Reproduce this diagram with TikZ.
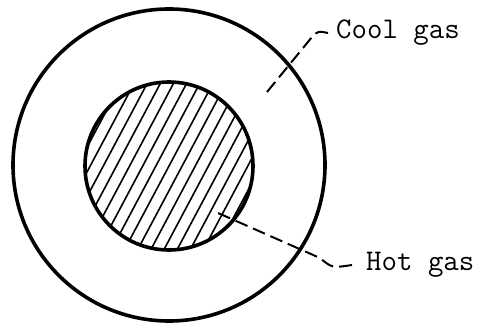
\documentclass[tikz,border=0pt]{standalone}
\begin{document}
\begin{tikzpicture}[x=1pt,y=1pt,
  ring/.style={line width=3.6pt},
  hatchline/.style={line width=1.6pt},
  leader/.style={line width=2pt, dash pattern=on 13pt off 6pt},
  lbl/.style={font=\fontsize{30}{32}\selectfont\ttfamily, inner sep=0pt, anchor=west}]
\useasboundingbox (0,0) rectangle (481,324);
\coordinate (c) at (169,158);
\begin{scope}
  \clip (c) circle (84);
  \foreach \i in {-9,...,9} {
    \draw[hatchline, shift={(c)}, rotate=62] (-110,\i*11.6) -- (110,\i*11.6);
  }
\end{scope}
\draw[ring] (169,159) circle (156);
\draw[ring] (c) circle (84);
\node[lbl] (cool) at (336,291) {Cool gas};
\node[lbl] (hot) at (366,59) {Hot gas};
\coordinate (coolstart) at (267,232);
\coordinate (hotstart) at (218,111);
\draw[leader] ([xshift=-8pt]cool.west) .. controls (318,293) .. (312,287) -- (coolstart);
\draw[leader] ([xshift=-14pt]hot.west) .. controls (332,56) .. (320,66) -- (hotstart);
\end{tikzpicture}
\end{document}
